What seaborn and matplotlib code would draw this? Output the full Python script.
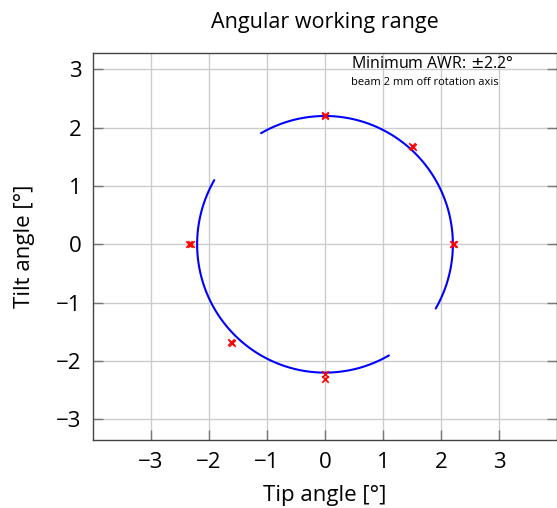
import numpy as np
import pandas as pd
import matplotlib
matplotlib.use("Agg")
import matplotlib.pyplot as plt
import seaborn as sns

# measured working-range points (tip, tilt) in degrees
tip_points = [0.0, 0.0, 1.52, 1.50, 2.20, 2.22, -2.30, -2.34, -1.60, -1.62, 0.0, 0.0]
tilt_points = [2.22, 2.20, 1.66, 1.68, 0.0, 0.0, 0.0, 0.0, -1.70, -1.68, -2.23, -2.31]

# fitted range circle, drawn as two arcs (start/end angle in degrees)
awr_radius = 2.2
arc_starts = [120, 150]
arc_ends = [-30, 300]

x_ticks = [-3, -2, -1, 0, 1, 2, 3]
y_ticks = [-3, -2, -1, 0, 1, 2, 3]

sns.set_theme(style="whitegrid")
plt.rcParams["font.family"] = ["Open Sans", "DejaVu Sans"]
plt.rcParams["axes.unicode_minus"] = True
plt.rcParams["text.color"] = "black"


def arc_frame(start, end, n=200):
    phi = np.deg2rad(np.linspace(start, end, n))
    return pd.DataFrame({"tip": awr_radius * np.cos(phi),
                         "tilt": awr_radius * np.sin(phi)})


fig = plt.figure(figsize=(5.57, 5.08), dpi=100)
ax = fig.add_axes([92.5 / 557, (508 - 440) / 508, 465 / 557, 387.3 / 508])

for start, end in zip(arc_starts, arc_ends):
    sns.lineplot(data=arc_frame(start, end), x="tip", y="tilt", sort=False,
                 color="blue", linewidth=1.5, ax=ax, estimator=None)

points = pd.DataFrame({"tip": tip_points, "tilt": tilt_points})
sns.scatterplot(data=points, x="tip", y="tilt", marker="x", color="red",
                s=22, linewidth=1.2, ax=ax, zorder=3)

ax.set_xlim(-4, 4)
ax.set_ylim(-3.355, 3.285)
ax.set_xticks(x_ticks)
ax.set_yticks(y_ticks)
ax.grid(True, color="#cccccc", linewidth=1.0)

ax.set_facecolor("white")
for side in ["left", "bottom", "top", "right"]:
    ax.spines[side].set_visible(True)
    ax.spines[side].set_color("#444444")
    ax.spines[side].set_linewidth(1.0)

ax.tick_params(direction="in", length=7, width=1, color="#777777",
               labelsize=16, labelcolor="black")
ax.tick_params(axis="x", pad=8.5, bottom=True, top=False)
ax.tick_params(axis="y", pad=8, left=True, right=True)

ax.set_xlabel("Tip angle [°]", fontsize=16, labelpad=9, color="black")
ax.set_ylabel("Tilt angle [°]", fontsize=16, labelpad=15, color="black")
ax.set_title("Angular working range", fontsize=15.5, pad=18, color="black")

ax.text(0.45, 3.22, "Minimum AWR: $\\pm$2.2°", fontsize=11.5, va="top", ha="left")
ax.text(0.45, 2.86, "beam 2 mm off rotation axis", fontsize=8, va="top", ha="left")

fig.savefig("out.png", dpi=100)
